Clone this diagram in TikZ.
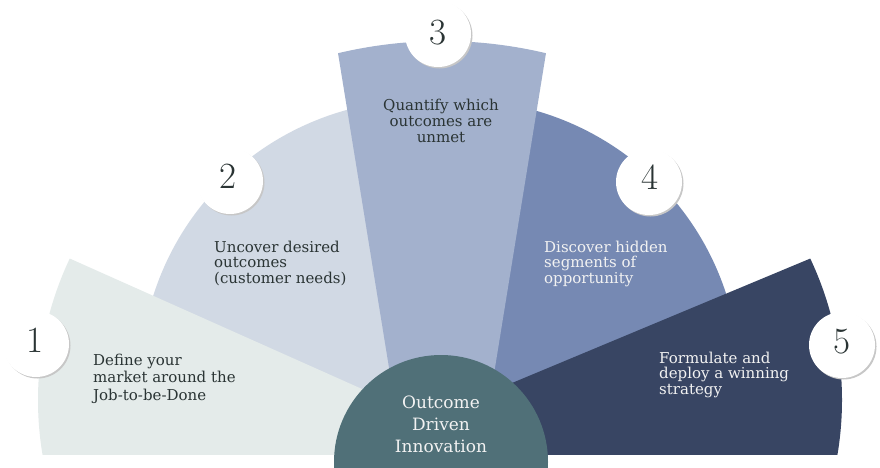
\documentclass[tikz,border=0pt]{standalone}
\usepackage{fontspec}
\newfontfamily\dvs{DejaVu Serif}
\definecolor{w1}{HTML}{E4EBEA}
\definecolor{w2}{HTML}{D1D9E4}
\definecolor{w3}{HTML}{A3B1CD}
\definecolor{w4}{HTML}{7689B3}
\definecolor{w5}{HTML}{384563}
\definecolor{ctr}{HTML}{507078}
\definecolor{txtdark}{HTML}{2A3434}
\definecolor{txtlight}{HTML}{F2F2F2}
\begin{document}
\begin{tikzpicture}[x=1pt,y=1pt,
  numcirc/.style={circle,fill=white,minimum size=66pt,inner sep=0pt},
  shadowcirc/.style={circle,fill=black!22,minimum size=66pt,inner sep=0pt},
  numtxt/.style={font=\fontsize{37}{37}\selectfont,text=txtdark,inner sep=0pt},
  steptxt/.style={inner sep=0pt,anchor=base west,align=left},
]
\useasboundingbox (0,0) rectangle (880,-467);
\fill[white] (0,0) rectangle (880,-467);
\begin{scope}
  \clip (0,0) rectangle (880,-454);
  \fill[w2] (421,-381) -- ++(75:281) arc[start angle=75,end angle=200,radius=281] -- cycle;
  \fill[w4] (459,-381) -- ++(105:281) arc[start angle=105,end angle=-20,radius=281] -- cycle;
  \fill[w1] ([shift={(154.7:331)}]369,-400) arc[start angle=154.7,end angle=190,radius=331] -- (440,-460) -- (380,-397) -- cycle;
  \fill[w5] (440,-460) -- ([shift={(-10:331)}]511,-400) arc[start angle=-10,end angle=25.3,radius=331] -- (500,-388) -- cycle;
  \fill[w3] ([shift={(103.36:450)}]442,-491) arc[start angle=103.36,end angle=76.64,radius=450] -- (481,-454) -- (403,-454) -- cycle;
\end{scope}

\node[circle,fill=ctr,minimum size=214pt,inner sep=0pt] (core) at (441,-462) {};
\node[inner sep=0pt,anchor=base,align=center,text=txtlight,font=\dvs\fontsize{17}{22}\selectfont] (coretxt) at (441,-452) {Outcome\\Driven\\Innovation};

% number badges
\node[shadowcirc] (s1) at (37.5,-345.5) {};
\node[numcirc] (c1) at (36,-344) {};
\node[numtxt] (n1) at (35,-340.5) {1};
\node[shadowcirc] (s2) at (231.5,-182.5) {};
\node[numcirc] (c2) at (230,-181) {};
\node[numtxt] (n2) at (228,-176.5) {2};
\node[shadowcirc] (s3) at (439.5,-35.5) {};
\node[numcirc] (c3) at (438,-34) {};
\node[numtxt] (n3) at (438,-32.5) {3};
\node[shadowcirc] (s4) at (650.5,-183.5) {};
\node[numcirc] (c4) at (649,-182) {};
\node[numtxt] (n4) at (650,-177.5) {4};
\node[shadowcirc] (s5) at (843.5,-346.5) {};
\node[numcirc] (c5) at (842,-345) {};
\node[numtxt] (n5) at (842,-341.5) {5};

% step texts (anchor at baseline of last line)
\node[steptxt,text=txtdark,font=\dvs\fontsize{15}{17.5}\selectfont] (t1) at (93,-400) {Define your\\market around the\\Job-to-be-Done};
\node[steptxt,text=txtdark,font=\dvs\fontsize{15}{15.5}\selectfont] (t2) at (214,-283) {Uncover desired\\outcomes\\(customer needs)};
\node[inner sep=0pt,anchor=base,align=center,text=txtdark,font=\dvs\fontsize{15}{16}\selectfont] (t3) at (441,-142) {Quantify which\\outcomes are\\unmet};
\node[steptxt,text=txtlight,font=\dvs\fontsize{15}{15.5}\selectfont] (t4) at (544,-283) {Discover hidden\\segments of\\opportunity};
\node[steptxt,text=txtlight,font=\dvs\fontsize{15}{15.5}\selectfont] (t5) at (659,-394) {Formulate and\\deploy a winning\\strategy};
\end{tikzpicture}
\end{document}
